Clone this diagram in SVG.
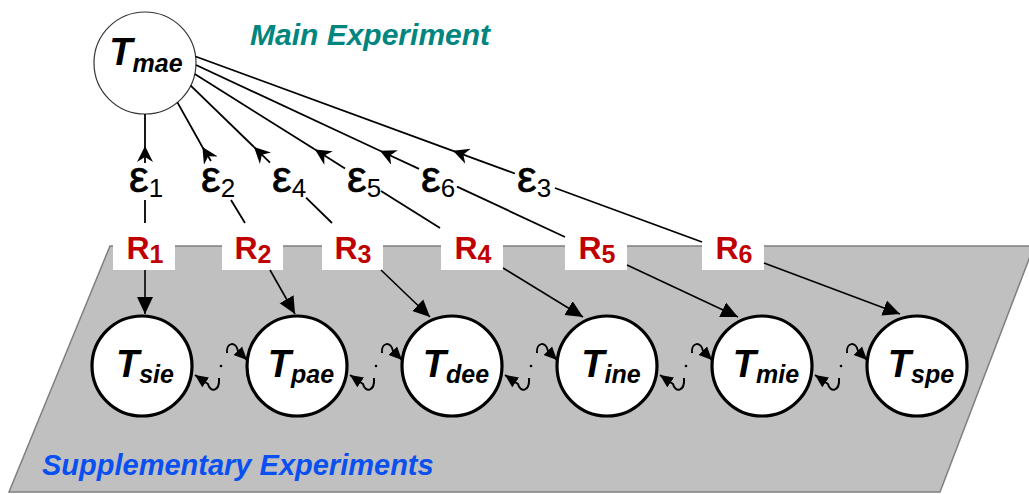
<svg xmlns="http://www.w3.org/2000/svg" width="1029" height="494" viewBox="0 0 1029 494">
<style>
.t{font-family:"Liberation Sans",Arial,sans-serif;font-weight:bold;font-style:italic;font-size:38px;fill:#000}
.ts{font-size:25px}
.r{font-family:"Liberation Sans",Arial,sans-serif;font-weight:bold;font-size:32px;fill:#c00000}
.rs{font-size:25px}
.eps{font-family:"Liberation Sans",Arial,sans-serif;font-size:44px;fill:#000;stroke:#000;stroke-width:0.7}
.es{font-size:26px;stroke-width:0}
.ttl{font-family:"Liberation Sans",Arial,sans-serif;font-weight:bold;font-style:italic}
.box{fill:#fff;stroke:none}
.big{fill:#fff;stroke:#000;stroke-width:3.2}
.top{fill:#fff;stroke:#333;stroke-width:1.2}
.ln{stroke:#000;stroke-width:1.8;fill:none}
.lnb{stroke:#000;stroke-width:1.6;fill:none}
.loop{stroke:#000;stroke-width:2;fill:none}
</style>
<defs>
<marker id="ah" markerUnits="userSpaceOnUse" markerWidth="17" markerHeight="16" refX="16" refY="8" orient="auto" viewBox="0 0 17 16">
<path d="M0,0 L16,8 L0,16 L5,8 z" fill="#000"/>
</marker>
<marker id="ab" markerUnits="userSpaceOnUse" markerWidth="18" markerHeight="17" refX="17" refY="8" orient="auto" viewBox="0 0 18 16">
<path d="M0,0 L17,8 L0,16 z" fill="#000"/>
</marker>
<marker id="as" markerUnits="userSpaceOnUse" markerWidth="14" markerHeight="13" refX="13" refY="6" orient="auto" viewBox="0 0 14 12">
<path d="M0,0 L13,6 L0,12 z" fill="#000"/>
</marker>
<path id="loopR" class="loop" d="M77,12 C78,26 68,27 66,18 L53,9" marker-end="url(#as)"/>
<path id="loopL" class="loop" d="M-70,-13 C-71,-24 -61,-25 -59,-15 L-50,-6" marker-end="url(#as)"/>
</defs>

<polygon id="plane" points="110,246 1034,246 940,492 9,492" fill="#c0c0c0" stroke="#7f7f7f" stroke-width="1.5"/>

<text class="ttl" x="250" y="45" font-size="30" fill="#00857f">Main Experiment</text>
<text class="ttl" x="42" y="475" font-size="29" fill="#0a50f0">Supplementary Experiments</text>

<g id="node-Tmae">
<circle class="top" cx="145" cy="63" r="51"/>
<text class="t" x="146" y="65" text-anchor="middle">T<tspan class="ts" dy="7">mae</tspan></text>
</g>

<g id="node-R1"><rect class="box" x="113" y="223" width="62" height="47"/><text class="r" x="145" y="259" text-anchor="middle">R<tspan class="rs" dy="4">1</tspan></text></g>
<g id="node-R2"><rect class="box" x="222" y="223" width="61" height="47"/><text class="r" x="253" y="259" text-anchor="middle">R<tspan class="rs" dy="4">2</tspan></text></g>
<g id="node-R3"><rect class="box" x="322" y="223" width="61" height="47"/><text class="r" x="353" y="259" text-anchor="middle">R<tspan class="rs" dy="4">3</tspan></text></g>
<g id="node-R4"><rect class="box" x="441" y="223" width="62" height="47"/><text class="r" x="473" y="259" text-anchor="middle">R<tspan class="rs" dy="4">4</tspan></text></g>
<g id="node-R5"><rect class="box" x="565" y="223" width="62" height="47"/><text class="r" x="597" y="259" text-anchor="middle">R<tspan class="rs" dy="4">5</tspan></text></g>
<g id="node-R6"><rect class="box" x="702" y="223" width="62" height="47"/><text class="r" x="734" y="259" text-anchor="middle">R<tspan class="rs" dy="4">6</tspan></text></g>

<g id="node-Tsie"><circle class="big" cx="142" cy="366" r="50"/><text class="t" x="145" y="377" text-anchor="middle">T<tspan class="ts" dy="6">sie</tspan></text></g>
<g id="node-Tpae"><circle class="big" cx="297" cy="366" r="50"/><text class="t" x="301" y="377" text-anchor="middle">T<tspan class="ts" dy="6">pae</tspan></text></g>
<g id="node-Tdee"><circle class="big" cx="452" cy="366" r="50"/><text class="t" x="456" y="377" text-anchor="middle">T<tspan class="ts" dy="6">dee</tspan></text></g>
<g id="node-Tine"><circle class="big" cx="607" cy="366" r="50"/><text class="t" x="611" y="377" text-anchor="middle">T<tspan class="ts" dy="6">ine</tspan></text></g>
<g id="node-Tmie"><circle class="big" cx="762" cy="366" r="50"/><text class="t" x="766" y="377" text-anchor="middle">T<tspan class="ts" dy="6">mie</tspan></text></g>
<g id="node-Tspe"><circle class="big" cx="917" cy="366" r="50"/><text class="t" x="921" y="377" text-anchor="middle">T<tspan class="ts" dy="6">spe</tspan></text></g>

<g id="connectors">
<line class="ln" x1="145" y1="223" x2="145" y2="200"/>
<line class="ln" x1="145" y1="163" x2="145" y2="146" marker-end="url(#ah)"/>
<line class="ln" x1="145" y1="146" x2="145" y2="114"/>

<line class="ln" x1="245" y1="223" x2="231" y2="200"/>
<line class="ln" x1="211" y1="161" x2="202.4" y2="147" marker-end="url(#ah)"/>
<line class="ln" x1="202.4" y1="147" x2="177.4" y2="102.4"/>

<line class="ln" x1="332" y1="223" x2="306" y2="197.6"/>
<line class="ln" x1="270" y1="162.6" x2="254" y2="147" marker-end="url(#ah)"/>
<line class="ln" x1="254" y1="147" x2="190.7" y2="85.6"/>

<line class="ln" x1="440" y1="228" x2="381" y2="191"/>
<line class="ln" x1="345" y1="168.4" x2="315" y2="149.6" marker-end="url(#ah)"/>
<line class="ln" x1="315" y1="149.6" x2="194.8" y2="74.1"/>

<line class="ln" x1="565" y1="237" x2="457" y2="186.6"/>
<line class="ln" x1="419" y1="168.9" x2="380" y2="150.8" marker-end="url(#ah)"/>
<line class="ln" x1="380" y1="150.8" x2="196" y2="65"/>

<line class="ln" x1="702" y1="242" x2="555" y2="188"/>
<line class="ln" x1="515" y1="173.5" x2="453" y2="150.8" marker-end="url(#ah)"/>
<line class="ln" x1="453" y1="150.8" x2="195.6" y2="56.5"/>

<line class="lnb" x1="145" y1="270" x2="145" y2="314" marker-end="url(#ab)"/>
<line class="lnb" x1="270" y1="270" x2="295" y2="314" marker-end="url(#ab)"/>
<line class="lnb" x1="381" y1="270" x2="430" y2="317" marker-end="url(#ab)"/>
<line class="lnb" x1="503" y1="268" x2="583" y2="317" marker-end="url(#ab)"/>
<line class="lnb" x1="627" y1="265" x2="738" y2="317" marker-end="url(#ab)"/>
<line class="lnb" x1="764" y1="263" x2="900" y2="314" marker-end="url(#ab)"/>

<use href="#loopR" transform="translate(142,366)"/>
<use href="#loopR" transform="translate(297,366)"/>
<use href="#loopR" transform="translate(452,366)"/>
<use href="#loopR" transform="translate(607,366)"/>
<use href="#loopR" transform="translate(762,366)"/>
<use href="#loopL" transform="translate(297,366)"/>
<use href="#loopL" transform="translate(452,366)"/>
<use href="#loopL" transform="translate(607,366)"/>
<use href="#loopL" transform="translate(762,366)"/>
<use href="#loopL" transform="translate(917,366)"/>
<circle cx="221" cy="366" r="1.3" fill="#000"/>
<circle cx="376" cy="366" r="1.3" fill="#000"/>
<circle cx="531" cy="366" r="1.3" fill="#000"/>
<circle cx="686" cy="366" r="1.3" fill="#000"/>
<circle cx="841" cy="366" r="1.3" fill="#000"/>
</g>

<g id="labels">
<text class="eps" x="129" y="192">ε<tspan class="es" dy="5">1</tspan></text>
<text class="eps" x="201" y="192">ε<tspan class="es" dy="5">2</tspan></text>
<text class="eps" x="272" y="192">ε<tspan class="es" dy="5">4</tspan></text>
<text class="eps" x="347" y="192">ε<tspan class="es" dy="5">5</tspan></text>
<text class="eps" x="421" y="192">ε<tspan class="es" dy="5">6</tspan></text>
<text class="eps" x="517" y="192">ε<tspan class="es" dy="5">3</tspan></text>
</g>
</svg>
